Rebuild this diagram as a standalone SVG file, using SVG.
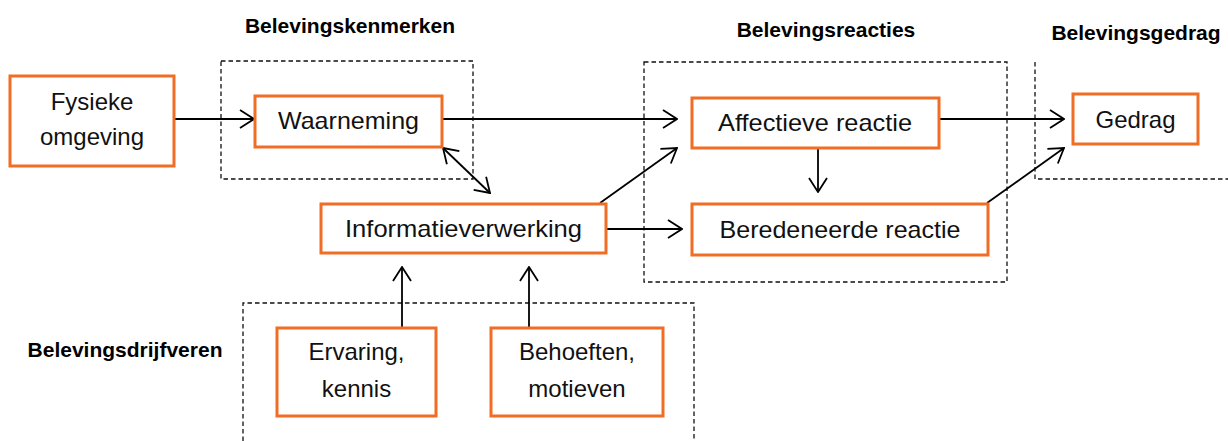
<svg xmlns="http://www.w3.org/2000/svg" width="1228" height="441" viewBox="0 0 1228 441">
<style>
.box{fill:#fff;stroke:#F26D24;stroke-width:3}
.grp{fill:none;stroke:#111;stroke-width:1.3;stroke-dasharray:4.5,3}
.lbl{font-family:"Liberation Sans",Arial,sans-serif;font-size:24px;fill:#111;text-anchor:middle}
.hd{font-family:"Liberation Sans",Arial,sans-serif;font-size:21px;font-weight:bold;fill:#000;text-anchor:middle}
.con{fill:none;stroke:#000;stroke-width:1.8}
</style>
<defs>
<marker id="ah" viewBox="0 0 16 20" refX="15" refY="10" markerWidth="16" markerHeight="20" markerUnits="userSpaceOnUse" orient="auto-start-reverse">
<path d="M1,1 L15,10 L1,19" fill="none" stroke="#000" stroke-width="1.8"/>
</marker>
</defs>
<rect width="1228" height="441" fill="#fff"/>
<g id="groups">
<rect class="grp" x="221" y="61" width="252" height="118"/>
<rect class="grp" x="644" y="62" width="363" height="220"/>
<path class="grp" d="M1035,62 V179 H1228"/>
<path class="grp" d="M243,441 V303 H694 V441"/>
<text class="hd" x="350" y="33">Belevingskenmerken</text>
<text class="hd" x="826" y="37">Belevingsreacties</text>
<text class="hd" x="1136" y="40">Belevingsgedrag</text>
<text class="hd" x="125" y="357">Belevingsdrijfveren</text>
</g>
<g id="connectors">
<path class="con" marker-end="url(#ah)" d="M175,119 H254"/>
<path class="con" marker-end="url(#ah)" d="M442,119 H677"/>
<path class="con" marker-end="url(#ah)" d="M939,119 H1064"/>
<path class="con" marker-end="url(#ah)" d="M818,148 V192"/>
<path class="con" marker-end="url(#ah)" d="M600,203 L677,148"/>
<path class="con" marker-end="url(#ah)" d="M606,229 H682"/>
<path class="con" marker-end="url(#ah)" d="M987,203 L1064,148"/>
<path class="con" marker-start="url(#ah)" marker-end="url(#ah)" d="M443,148 L490,193"/>
<path class="con" marker-end="url(#ah)" d="M402,328 V267"/>
<path class="con" marker-end="url(#ah)" d="M529,328 V267"/>
</g>
<g id="fysieke-omgeving">
<rect class="box" x="10" y="76" width="164" height="90"/>
<text class="lbl" x="92" y="110">Fysieke</text>
<text class="lbl" x="92" y="145">omgeving</text>
</g>
<g id="waarneming">
<rect class="box" x="255" y="96" width="187" height="51"/>
<text class="lbl" x="348.5" y="129" textLength="141" lengthAdjust="spacingAndGlyphs">Waarneming</text>
</g>
<g id="affectieve-reactie">
<rect class="box" x="692" y="98" width="247" height="50"/>
<text class="lbl" x="815" y="131" textLength="194" lengthAdjust="spacingAndGlyphs">Affectieve reactie</text>
</g>
<g id="beredeneerde-reactie">
<rect class="box" x="692" y="204" width="296" height="51"/>
<text class="lbl" x="840" y="238" textLength="241" lengthAdjust="spacingAndGlyphs">Beredeneerde reactie</text>
</g>
<g id="gedrag">
<rect class="box" x="1073" y="94" width="125" height="50"/>
<text class="lbl" x="1135.5" y="127.5" textLength="80" lengthAdjust="spacingAndGlyphs">Gedrag</text>
</g>
<g id="informatieverwerking">
<rect class="box" x="321" y="204" width="285" height="49"/>
<text class="lbl" x="463.5" y="237" textLength="237" lengthAdjust="spacingAndGlyphs">Informatieverwerking</text>
</g>
<g id="ervaring-kennis">
<rect class="box" x="277" y="328" width="159" height="88"/>
<text class="lbl" x="356.5" y="360">Ervaring,</text>
<text class="lbl" x="356.5" y="397">kennis</text>
</g>
<g id="behoeften-motieven">
<rect class="box" x="491" y="328" width="172" height="88"/>
<text class="lbl" x="577" y="360">Behoeften,</text>
<text class="lbl" x="577" y="397">motieven</text>
</g>
</svg>
